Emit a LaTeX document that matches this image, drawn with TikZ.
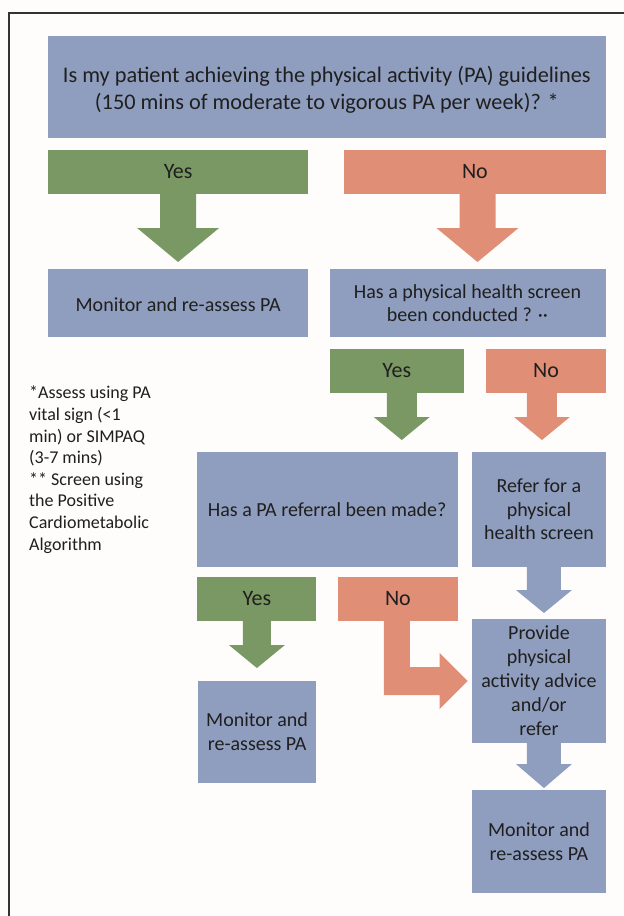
\documentclass[tikz,border=0pt]{standalone}
\usepackage{fontspec}
\setmainfont{Carlito}
\usetikzlibrary{calc}
\definecolor{boxblue}{HTML}{8F9DBE}
\definecolor{yesgreen}{HTML}{7A9864}
\definecolor{nosalmon}{HTML}{E18E76}
\definecolor{txt}{HTML}{1F1F1F}
\definecolor{bg}{HTML}{FEFDFC}
\definecolor{frame}{HTML}{333333}
\newcommand\downarr[8]{%
  \fill[#1] let \p1=($(#2.south)+(#8,0)$), \p2=(#3.north) in
    (\x1-#4pt,\y1+1pt) -- (\x1+#4pt,\y1+1pt) -- (\x1+#4pt,\y2+#7pt+#6pt)
    -- (\x1+#5pt,\y2+#7pt+#6pt) -- (\x1,\y2+#7pt) -- (\x1-#5pt,\y2+#7pt+#6pt)
    -- (\x1-#4pt,\y2+#7pt+#6pt) -- cycle;}
\tikzset{
  blk/.style={inner sep=0pt, outer sep=0pt, anchor=north west, align=center, text=txt,
    font=\fontsize{20}{24}\selectfont},
  bluebox/.style={blk, fill=boxblue},
  yesbox/.style={blk, fill=yesgreen, font=\fontsize{22}{24}\selectfont},
  nobox/.style={blk, fill=nosalmon, font=\fontsize{22}{24}\selectfont},
  notes/.style={inner sep=0pt, anchor=north west, align=left, text=txt,
    font=\fontsize{18}{21.6}\selectfont}
}
\begin{document}
\begin{tikzpicture}[x=1pt,y=-1pt]
\fill[bg] (0,0) rectangle (624,916);
\useasboundingbox (0,0) rectangle (624,916);
\draw[frame, line width=1.8pt] (8.8,917) -- (8.8,12.7) -- (625,12.7);

% boxes
\node[bluebox, minimum width=558pt, minimum height=102pt, font=\fontsize{22.3}{27}\selectfont] (title) at (47.8,36)
  {\rule{0pt}{21pt}Is my patient achieving the physical activity (PA) guidelines\\(150 mins of moderate to vigorous PA per week)? *};
\node[yesbox, minimum width=260.6pt, minimum height=44pt] (yes1) at (47.8,150) {Yes};
\node[nobox, minimum width=261.4pt, minimum height=44pt] (no1) at (344.2,150) {No};
\node[bluebox, minimum width=260.6pt, minimum height=68pt] (mon1) at (47.8,269) {\rule{0pt}{18pt}Monitor and re-assess PA};
\node[bluebox, minimum width=276pt, minimum height=68pt, font=\fontsize{20}{23}\selectfont] (screen) at (329.5,269)
  {Has a physical health screen\\been conducted ? ··};
\node[yesbox, minimum width=134.5pt, minimum height=44pt] (yes2) at (329.5,349) {Yes};
\node[nobox, minimum width=119.3pt, minimum height=44pt] (no2) at (486.3,349) {No};
\node[bluebox, minimum width=261pt, minimum height=115pt] (ref) at (196.6,452) {Has a PA referral been made?};
\node[bluebox, minimum width=133.3pt, minimum height=115pt, font=\fontsize{20}{23.5}\selectfont] (referbox) at (472.3,452)
  {Refer for a\\physical\\health screen};
\node[yesbox, minimum width=119pt, minimum height=44pt] (yes3) at (197.4,577) {Yes};
\node[nobox, minimum width=119.4pt, minimum height=44pt] (no3) at (338.2,577) {No};
\node[bluebox, minimum width=118.6pt, minimum height=102pt] (mon2) at (197.8,681) {Monitor and\\re-assess PA};
\node[bluebox, minimum width=133.3pt, minimum height=124pt] (provide) at (472.3,619)
  {Provide\\physical\\activity advice\\and/or\\refer};
\node[bluebox, minimum width=133.3pt, minimum height=103pt] (mon3) at (472.3,790) {Monitor and\\re-assess PA};

\node[notes] (note) at (29,386)
  {*Assess using PA\\vital sign (<1\\min) or SIMPAQ\\(3-7 mins)\\** Screen using\\the Positive\\Cardiometabolic\\Algorithm};

% arrows
\downarr{yesgreen}{yes1}{mon1}{18}{41}{34}{7}{0}
\downarr{nosalmon}{no1}{screen}{18}{41}{34}{7}{2.6}
\downarr{yesgreen}{yes2}{ref}{15}{28}{23}{12}{5}
\downarr{nosalmon}{no2}{referbox}{15}{28}{23}{12}{-4}
\downarr{yesgreen}{yes3}{mon2}{14}{28}{23}{13}{0}
\downarr{boxblue}{referbox}{provide}{17}{28}{23}{6}{5}
\downarr{boxblue}{provide}{mon3}{17}{28}{24}{2}{5}
\fill[nosalmon] let \p1=(no3.south), \p2=(provide.west) in
  (\x1-14pt,\y1+1pt) -- (\x1+12pt,\y1+1pt) -- (\x1+12pt,\y2+14pt)
  -- (\x2-32.6pt,\y2+14pt) -- (\x2-32.6pt,\y2+28pt) -- (\x2-4.7pt,\y2)
  -- (\x2-32.6pt,\y2-28pt) -- (\x2-32.6pt,\y2-14pt) -- (\x1-14pt,\y2-14pt) -- cycle;
\end{tikzpicture}
\end{document}
